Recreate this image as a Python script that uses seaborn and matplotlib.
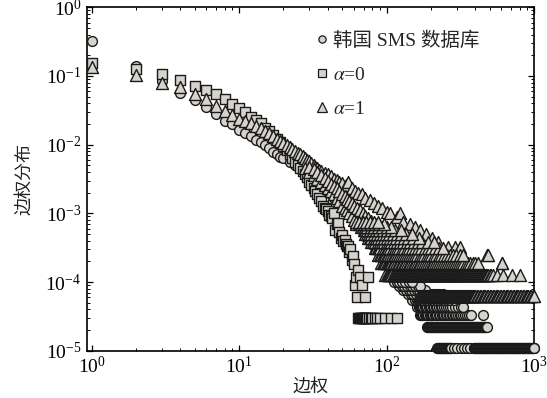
import numpy as np
import pandas as pd
import matplotlib
matplotlib.use("Agg")
import matplotlib.pyplot as plt
from matplotlib.lines import Line2D
import seaborn as sns

# ---------------- data ----------------
# Korean SMS data (circles): main curve
sms_x = [1, 2, 3, 4, 5, 6, 7, 8, 9, 10, 11, 12, 13, 14, 15, 16, 17, 18, 19, 20,
         22, 24, 26, 28, 30, 32, 34, 36, 38, 40, 42, 44, 46, 48, 50,
         53, 56, 59, 62, 66, 70, 73, 77, 81, 86, 91, 96, 101, 106, 111, 117, 125, 137]
sms_y = [0.32, 0.141, 0.085, 0.056, 0.044, 0.035, 0.028, 0.0224, 0.0197, 0.0165,
         0.0148, 0.0134, 0.0118, 0.0108, 0.0099, 0.0089, 0.0079, 0.0072, 0.0067, 0.0063,
         0.0056, 0.005, 0.0045, 0.004, 0.0036, 0.0032, 0.0029, 0.0026, 0.0023, 0.0021,
         0.0019, 0.0017, 0.0015, 0.0014, 0.0013,
         0.0011, 0.00097, 0.00085, 0.00075, 0.00064, 0.00054, 0.00046, 0.0004, 0.00035,
         0.0003, 0.00026, 0.00022, 0.00019, 0.00016, 0.000135, 0.000107, 0.000099, 0.000088]
# Korean SMS data: quantized tail rows (value of each row, and the edge weights on it)
sms_row_y = [1.1e-5, 2.2e-5, 3.3e-5, 4.4e-5, 5.5e-5, 6.6e-5, 7.7e-5, 8.8e-5, 9.9e-5]
sms_row_x = [
    [220, 222, 225, 227, 230, 232, 235, 237, 240, 243, 245, 248, 251, 253, 256, 259, 262,
     265, 268, 271, 274, 285, 300, 318, 335, 352, 370,
     390, 394, 398, 403, 407, 412, 416, 421, 426, 430, 435, 440, 445, 450, 455, 460, 465,
     470, 476, 481, 487, 492, 498, 503, 509, 515, 521, 526, 532, 538, 544, 550, 557, 563,
     569, 576, 582, 589, 595, 602, 609, 616, 623, 630, 637, 644, 651, 658, 666, 673, 681,
     688, 696, 704, 712, 720, 728, 736, 745, 753, 762, 770, 779, 788, 796, 805, 814, 824,
     833, 842, 852, 861, 871, 881, 891, 901, 911, 921, 932, 942, 953, 964, 975, 986, 997,
     1000],
    [188, 190, 192, 194, 196, 199, 201, 203, 205, 208, 210, 212, 215, 217, 219, 222, 224,
     227, 229, 232, 234, 237, 240, 242, 245, 248, 251, 253, 256, 259, 262, 265, 268, 271,
     274, 277, 280, 283, 286, 290, 293, 296, 300, 303, 306, 310, 313, 317, 320, 324, 328,
     331, 335, 339, 343, 346, 350, 354, 358, 362, 366, 370, 375, 379, 383, 388, 392, 396,
     401, 405, 410, 415, 419, 424, 429, 434, 439, 444, 449, 454, 459, 464, 469, 474, 480],
    [169, 172, 175, 178, 181, 184, 188, 192, 196, 200, 204, 208, 212, 216, 221, 226, 231,
     236, 241, 246, 252, 258, 264, 270, 276, 283, 290, 297, 305, 313, 321, 330, 340, 350,
     362, 375, 450],
    [162, 165, 168, 171, 174, 177, 181, 185, 189, 193, 197, 201, 206, 211, 216, 221, 227,
     233, 239, 246, 253, 260, 268, 280, 290, 305, 318, 330],
    [150, 155, 160, 166, 172, 178, 185, 192, 200, 208, 217, 226, 236, 247, 258, 270, 285],
    [140, 146, 152, 158, 165, 172, 180, 188, 197, 206, 216, 227, 240],
    [130, 135, 141, 147, 153, 160, 167, 175, 183],
    [122, 127, 132, 138, 144, 150, 157, 164, 170],
    [112, 117, 122, 128, 134, 141, 148],
]

# model alpha = 0 (squares)
a0_x = [1, 2, 3, 4, 5, 6, 7, 8, 9, 10, 11, 12, 13, 14, 15, 16, 17, 18, 19, 20,
        21, 22, 23, 24, 25, 26, 27, 28, 29, 30, 31, 32, 33, 34, 35, 36, 37, 38, 39, 40,
        41, 42, 43, 44, 45, 46, 47, 48, 49, 50, 51, 52, 53, 54, 55, 56, 57, 58, 59, 60,
        61, 62, 63, 64, 66, 68, 71, 75]
a0_y = [0.153, 0.126, 0.106, 0.0875, 0.0715, 0.0625, 0.054, 0.0457, 0.039, 0.034,
        0.030, 0.0255, 0.0228, 0.0205, 0.0175, 0.0158, 0.014, 0.0122, 0.0108, 0.0095,
        0.0083, 0.0072, 0.0064, 0.0056, 0.005, 0.0045, 0.0041, 0.0037, 0.0034, 0.0029,
        0.0026, 0.0023, 0.0021, 0.0019, 0.0017, 0.0015, 0.0013, 0.0012, 0.00115, 0.00108,
        0.00095, 0.0009, 0.00085, 0.001, 0.00058, 0.0007, 0.00072, 0.00054, 0.00044, 0.00048,
        0.00039, 0.00041, 0.00036, 0.00033, 0.00033, 0.00027, 0.0003, 0.00021, 0.00024, 0.00018,
        0.00009, 0.00012, 0.00006, 0.00015, 0.00012, 0.00009, 0.00006, 0.00012]
a0_row_y = [3.0e-5]
a0_row_x = [[64, 65, 66, 67, 68, 69, 70, 71, 72, 73, 74, 76, 78, 80, 83, 86, 90, 98, 108, 117]]

# model alpha = 1 (triangles): upper curve
a1_x = [1, 2, 3, 4, 5, 6, 7, 8, 9, 10, 11, 12, 13, 14, 15, 16, 17, 18, 19, 20,
        21, 22, 23, 24, 25, 26, 27, 28, 29, 30, 31, 32, 33, 34, 35, 36, 38, 40, 42, 44,
        46, 48, 50, 53, 55, 58, 61, 64, 68, 72, 77, 82, 87, 93, 100, 106, 117, 123, 130,
        144, 155, 169, 185, 202, 225, 263, 290, 316, 480, 605]
a1_y = [0.137, 0.103, 0.080, 0.068, 0.055, 0.047, 0.037, 0.031, 0.027, 0.024,
        0.022, 0.0205, 0.019, 0.0175, 0.016, 0.015, 0.0135, 0.0122, 0.0112, 0.0105,
        0.0098, 0.0092, 0.0086, 0.0081, 0.0076, 0.0072, 0.0068, 0.0064, 0.006, 0.0057,
        0.0054, 0.0051, 0.0048, 0.0045, 0.0043, 0.0041, 0.0039, 0.0037, 0.0035, 0.0032,
        0.0031, 0.0029, 0.0028, 0.0026, 0.0029, 0.0023, 0.0021, 0.002, 0.0019, 0.0017,
        0.00157, 0.0014, 0.0013, 0.0012, 0.00106, 0.001, 0.00089, 0.001, 0.00076,
        0.00069, 0.00063, 0.00057, 0.0005, 0.00044, 0.00038, 0.00032, 0.00032, 0.00032,
        0.00025, 0.00019]
# model alpha = 1: lower spread of the band (x 28-95)
a1_low_x = [28, 30, 32, 34, 36, 38, 40, 42, 44, 46, 48, 50, 52, 54, 56, 58, 60, 62,
            30, 32, 34, 36, 38, 40, 42, 44, 46, 48, 50, 52, 54, 56, 58, 60, 63, 66, 69,
            72, 75, 79, 83, 87, 91, 95]
a1_low_y = [0.0045, 0.004, 0.0036, 0.0032, 0.0029, 0.0026, 0.0023, 0.0021, 0.0019,
            0.0017, 0.0015, 0.0013, 0.0012, 0.0011, 0.001, 0.0009, 0.0008, 0.0007,
            0.0048, 0.0044, 0.004, 0.0036, 0.0033, 0.003, 0.0027, 0.0025, 0.0023, 0.0021,
            0.0019, 0.0018, 0.0016, 0.0015, 0.0014, 0.0013, 0.0012, 0.0011, 0.001,
            0.00092, 0.00085, 0.00078, 0.0007, 0.00065, 0.0006, 0.00055]
# model alpha = 1: quantized tail rows
a1_row_y = [6.3e-5, 1.26e-4, 1.9e-4, 2.5e-4, 3.15e-4, 3.8e-4, 4.4e-4, 5.0e-4, 5.7e-4,
            6.3e-4, 6.9e-4, 7.6e-4]
a1_row_x = [
    [165, 167, 169, 171, 173, 175, 177, 179, 181, 183, 185, 187, 189, 191, 193, 195, 197,
     199, 201, 203, 205, 208, 210, 212, 215, 217, 219, 222, 224, 227, 229, 232, 234, 237,
     240, 242, 245, 248, 251, 253, 256, 259, 262, 265, 268, 271, 274, 277, 280, 283, 286,
     290, 293, 296, 300, 303, 306, 310, 313, 317, 320, 324, 328, 331, 335, 339, 343, 346,
     350, 354, 358, 362, 366, 370, 375, 379, 383, 388, 392, 396, 401, 410, 419, 429, 439,
     449, 459, 469, 480, 491, 502, 513, 525, 537, 549, 561, 574, 587, 600, 614, 628, 642,
     656, 671, 686, 702, 718, 734, 750, 767, 785, 802, 820, 839, 858, 877, 897, 917, 938,
     959, 981, 1000],
    [98, 100, 102, 104, 106, 108, 110, 112, 114, 116, 118, 120, 121, 123, 124, 126, 127,
     129, 130, 132, 133, 135, 136, 138, 139, 141, 142, 144, 145, 147, 148, 150, 151, 153,
     155, 157, 159, 161, 163, 165, 167, 169, 171, 173, 175, 177, 179, 181, 183, 185, 187,
     189, 191, 194, 196, 199, 201, 204, 206, 209, 211, 214, 216, 219, 221, 224, 226, 229,
     232, 235, 238, 241, 244, 247, 250, 253, 256, 259, 262, 265, 268, 272, 275, 279, 282,
     286, 289, 293, 296, 300, 303, 307, 310, 314, 318, 322, 326, 330, 334, 338, 342, 346,
     350, 355, 360, 365, 370, 375, 380, 385, 390, 395, 400, 406, 412, 418, 424, 430, 436,
     442, 448, 454, 460, 467, 475, 482, 490, 500, 510, 527, 560, 620, 710, 800],
    [92, 94, 96, 98, 100, 102, 104, 106, 108, 110, 113, 116, 119, 122, 125, 128, 131, 134,
     137, 141, 145, 149, 153, 157, 161, 165, 170, 175, 180, 185, 190, 196, 202, 208, 214,
     220, 227, 234, 241, 248, 256, 264, 272, 281, 290, 300, 310, 320, 332, 344, 356, 370,
     385, 400, 420, 610],
    [88, 90, 92, 94, 96, 98, 100, 103, 106, 109, 112, 115, 118, 122, 126, 130, 134,
     138, 142, 147, 152, 157, 162, 168, 174, 180, 187, 194, 201, 209, 217, 226, 235, 245,
     256, 268, 282, 298, 315, 330, 491],
    [83, 85, 87, 89, 91, 94, 97, 100, 103, 106, 110, 114, 118, 122, 127, 132, 137,
     143, 149, 156, 164, 172, 181, 190, 200, 212, 226, 240],
    [79, 81, 84, 87, 90, 93, 96, 100, 104, 108, 113, 118, 124, 130, 137, 145, 154,
     164, 175, 190, 210],
    [75, 77, 79, 82, 85, 88, 92, 96, 100, 105, 110, 116, 123, 131, 140, 152, 166],
    [72, 74, 76, 79, 82, 86, 90, 94, 99, 104, 110, 117, 125, 135, 148],
    [70, 72, 74, 77, 81, 85, 89, 94, 100, 107, 115, 125],
    [67, 69, 71, 74, 78, 82, 87, 93, 100, 108],
    [65, 67, 70, 74, 78, 83, 89, 96],
    [62, 65, 69, 73, 77, 82, 88],
]

legend_labels = ["韩国 SMS 数据库", r"$\alpha$=0", r"$\alpha$=1"]
x_label = "边权"
y_label = "边权分布"


def build(main_x, main_y, row_y, row_x):
    xs = list(main_x)
    ys = list(main_y)
    for yv, xr in zip(row_y, row_x):
        xs += list(xr)
        ys += [yv] * len(xr)
    return pd.DataFrame({"w": xs, "p": ys})


df_sms = build(sms_x, sms_y, sms_row_y, sms_row_x)
df_a0 = build(a0_x, a0_y, a0_row_y, a0_row_x)
df_a1 = build(a1_x + a1_low_x, a1_y + a1_low_y, a1_row_y, a1_row_x)

# ---------------- style ----------------
sns.set_theme(style="ticks")
plt.rcParams["font.family"] = ["Liberation Serif", "Noto Sans CJK SC", "DejaVu Sans"]
plt.rcParams["mathtext.fontset"] = "stix"
plt.rcParams["axes.unicode_minus"] = False

FILL = "#d6d3cd"
EDGE = "#1a1a1a"

fig = plt.figure(figsize=(5.47, 3.98), dpi=100)
ax = fig.add_axes([87 / 547, 1 - 350.7 / 398, (534 - 87) / 547, (350.7 - 7.3) / 398])

common = dict(ax=ax, color=FILL, edgecolor=EDGE, linewidth=1.0, legend=False, clip_on=False)
sns.scatterplot(data=df_sms, x="w", y="p", marker="o", s=50, zorder=3, **common)
sns.scatterplot(data=df_a0, x="w", y="p", marker="s", s=56, zorder=4, **common)
sns.scatterplot(data=df_a1, x="w", y="p", marker="^", s=74, zorder=5, **common)

ax.set_xscale("log")
ax.set_yscale("log")
ax.set_xlim(0.932, 1000)
ax.set_ylim(1e-5, 1)

ax.tick_params(which="both", direction="in", top=True, right=True, labelsize=14, colors="black")
ax.tick_params(which="major", length=4.5, width=0.9, pad=4)
ax.tick_params(which="minor", length=2.3, width=0.7)
for sp in ax.spines.values():
    sp.set_linewidth(1.2)
    sp.set_color("black")

ax.set_xlabel(x_label, fontsize=13, family=["Noto Sans CJK SC"], labelpad=0, color="#222222")
ax.set_ylabel(y_label, fontsize=13, family=["Noto Sans CJK SC"], labelpad=9, color="#222222")

handles = [
    Line2D([], [], ls="none", marker="o", ms=5.2, mfc=FILL, mec=EDGE, mew=0.9),
    Line2D([], [], ls="none", marker="s", ms=6.4, mfc=FILL, mec=EDGE, mew=0.9),
    Line2D([], [], ls="none", marker="^", ms=7.2, mfc=FILL, mec=EDGE, mew=0.9),
]
leg = ax.legend(handles, legend_labels, loc="upper left", bbox_to_anchor=(0.51, 0.93),
                frameon=False, fontsize=14, handlelength=0.7, handletextpad=0.25,
                labelspacing=0.85, borderpad=0, borderaxespad=0)

fig.savefig("out.png", dpi=100)
